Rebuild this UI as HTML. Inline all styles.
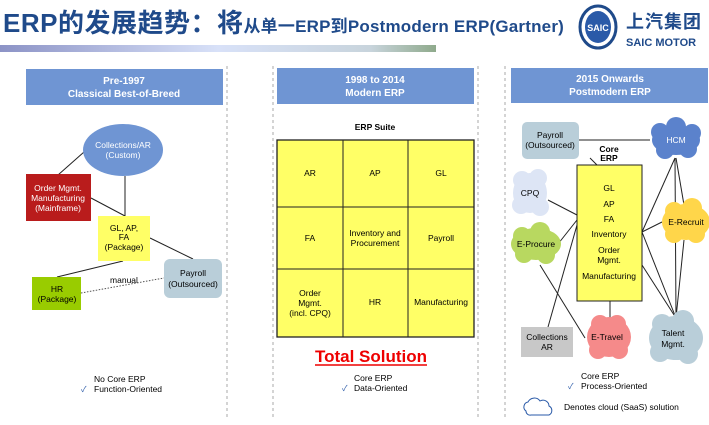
<!DOCTYPE html>
<html><head><meta charset="utf-8"><style>
body{margin:0;width:709px;height:420px;background:#fff;overflow:hidden;font-family:"Liberation Sans","Noto Sans CJK SC",sans-serif;}
svg text{font-family:"Liberation Sans","Noto Sans CJK SC",sans-serif;}
</style></head><body>
<svg width="709" height="420" viewBox="0 0 709 420" xmlns="http://www.w3.org/2000/svg">
<defs>
<linearGradient id="bar" x1="0" x2="1"><stop offset="0" stop-color="#8c93c6"/><stop offset="0.5" stop-color="#d8e1f8"/><stop offset="0.85" stop-color="#c8d4dc"/><stop offset="1" stop-color="#8faa8c"/></linearGradient>
</defs>
<text x="3" y="32" font-size="26" font-weight="bold" fill="#1f4a8a" letter-spacing="0.5">ERP的发展趋势：将<tspan font-size="17" letter-spacing="0.2">从单一ERP到Postmodern ERP(Gartner)</tspan></text>
<rect x="0" y="45" width="436" height="7" fill="url(#bar)"/>
<ellipse cx="598" cy="27" rx="18" ry="21" fill="#fff" stroke="#1f4a8a" stroke-width="3"/>
<ellipse cx="598" cy="27" rx="13" ry="16" fill="#2a5aa8"/>
<text x="598" y="31" font-size="9" font-weight="bold" fill="#fff" text-anchor="middle">SAIC</text>
<text x="626" y="28" font-size="18" font-weight="bold" fill="#1f4a8a" letter-spacing="1">上汽集团</text>
<text x="626" y="46" font-size="11" font-weight="bold" fill="#1f4a8a">SAIC MOTOR</text>
<g stroke="#aaa" stroke-dasharray="3,3" stroke-width="1">
<line x1="227" y1="66" x2="227" y2="420"/><line x1="273" y1="66" x2="273" y2="420"/>
<line x1="478" y1="66" x2="478" y2="420"/><line x1="505" y1="66" x2="505" y2="420"/>
</g>
<g font-size="10" font-weight="bold" fill="#fff" text-anchor="middle">
<rect x="26" y="69" width="197" height="36" fill="#6f95d3"/>
<text x="124" y="84">Pre-1997</text><text x="124" y="97">Classical Best-of-Breed</text>
<rect x="277" y="68" width="197" height="36" fill="#6f95d3"/>
<text x="375" y="83">1998 to 2014</text><text x="375" y="96">Modern ERP</text>
<rect x="511" y="68" width="197" height="35" fill="#6f95d3"/>
<text x="610" y="82">2015 Onwards</text><text x="610" y="95">Postmodern ERP</text>
</g>
<g stroke="#222" stroke-width="1">
<line x1="84" y1="152" x2="58" y2="175"/><line x1="125" y1="176" x2="125" y2="216"/>
<line x1="91" y1="198" x2="125" y2="216"/><line x1="150" y1="238" x2="193" y2="259"/>
<line x1="123" y1="261" x2="57" y2="277"/>
<line x1="81" y1="293" x2="164" y2="278" stroke-dasharray="1.5,1.5" stroke="#555"/>
</g>
<ellipse cx="123" cy="150" rx="40" ry="26" fill="#6f95d3"/>
<rect x="26" y="174" width="65" height="47" fill="#b91c1c"/>
<rect x="98" y="216" width="52" height="45" fill="#ffff66"/>
<rect x="32" y="277" width="49" height="33" fill="#99cc00"/>
<rect x="164" y="259" width="58" height="39" rx="6" fill="#b9ced9"/>
<g font-size="8.5" text-anchor="middle">
<text x="123" y="148" fill="#fff">Collections/AR</text><text x="123" y="158" fill="#fff">(Custom)</text>
<text x="58" y="191" fill="#fff">Order Mgmt.</text><text x="58" y="201" fill="#fff">Manufacturing</text><text x="58" y="211" fill="#fff">(Mainframe)</text>
<text x="124" y="231">GL, AP,</text><text x="124" y="240">FA</text><text x="124" y="250">(Package)</text>
<text x="57" y="292">HR</text><text x="57" y="302">(Package)</text>
<text x="193" y="276">Payroll</text><text x="193" y="287">(Outsourced)</text>
<text x="124" y="283">manual</text>
</g>
<g font-size="8.5"><text x="94" y="382">No Core ERP</text><text x="94" y="392">Function-Oriented</text></g>
<text x="81" y="392" font-size="8" fill="#2a5aa8">✓</text>
<text x="375" y="130" font-size="8.5" font-weight="bold" text-anchor="middle">ERP Suite</text>
<rect x="277" y="140" width="197" height="197" fill="#ffff66" stroke="#222" stroke-width="1.3"/>
<g stroke="#222" stroke-width="1"><line x1="343" y1="140" x2="343" y2="337"/><line x1="408" y1="140" x2="408" y2="337"/><line x1="277" y1="207" x2="474" y2="207"/><line x1="277" y1="269" x2="474" y2="269"/></g>
<g font-size="8.5" text-anchor="middle">
<text x="310" y="176">AR</text><text x="375" y="176">AP</text><text x="441" y="176">GL</text>
<text x="310" y="241">FA</text><text x="375" y="236">Inventory and</text><text x="375" y="246">Procurement</text><text x="441" y="241">Payroll</text>
<text x="310" y="296">Order</text><text x="310" y="306">Mgmt.</text><text x="310" y="316">(incl. CPQ)</text>
<text x="375" y="305">HR</text><text x="441" y="305">Manufacturing</text>
</g>
<text x="371" y="362" font-size="17" font-weight="bold" fill="#e00" text-anchor="middle">Total Solution</text>
<line x1="315" y1="365" x2="427" y2="365" stroke="#e00" stroke-width="1.5"/>
<g font-size="8.5"><text x="354" y="381">Core ERP</text><text x="354" y="391">Data-Oriented</text></g>
<text x="342" y="391" font-size="8" fill="#2a5aa8">✓</text>
<g stroke="#222" stroke-width="1">
<line x1="579" y1="140" x2="650" y2="140"/><line x1="590" y1="158" x2="597" y2="165"/>
<line x1="675" y1="158" x2="642" y2="232"/><line x1="675" y1="158" x2="676" y2="318"/><line x1="676" y1="158" x2="684" y2="205"/>
<line x1="684" y1="240" x2="676" y2="318"/>
<line x1="662" y1="222" x2="642" y2="232"/><line x1="642" y1="232" x2="676" y2="318"/><line x1="642" y1="265" x2="676" y2="318"/>
<line x1="548" y1="200" x2="577" y2="215"/><line x1="558" y1="244" x2="577" y2="220"/>
<line x1="548" y1="327" x2="577" y2="225"/><line x1="540" y1="265" x2="585" y2="338"/>
<line x1="610" y1="301" x2="610" y2="318"/>
</g>
<rect x="522" y="122" width="57" height="37" rx="5" fill="#b9ced9"/>
<rect x="577" y="165" width="65" height="136" fill="#ffff66" stroke="#222" stroke-width="1"/>
<rect x="521" y="327" width="52" height="30" fill="#c8c8c8"/>
<g fill="#5b82cc"><ellipse cx="676" cy="140" rx="24" ry="15"/><circle cx="660" cy="132" r="9"/><circle cx="676" cy="127" r="10"/><circle cx="692" cy="133" r="9"/><circle cx="665" cy="150" r="9"/><circle cx="688" cy="149" r="9"/></g>
<g fill="#dde5f5"><ellipse cx="530" cy="193" rx="17" ry="20"/><circle cx="522" cy="180" r="9"/><circle cx="538" cy="178" r="9"/><circle cx="521" cy="205" r="9"/><circle cx="540" cy="207" r="9"/></g>
<g fill="#b8d860"><ellipse cx="536" cy="244" rx="25" ry="16"/><circle cx="522" cy="236" r="9"/><circle cx="540" cy="232" r="10"/><circle cx="524" cy="254" r="9"/><circle cx="546" cy="255" r="9"/></g>
<g fill="#ffd64a"><ellipse cx="686" cy="222" rx="24" ry="18"/><circle cx="674" cy="211" r="9"/><circle cx="692" cy="208" r="10"/><circle cx="674" cy="234" r="9"/><circle cx="696" cy="234" r="9"/></g>
<g fill="#f58a8a"><ellipse cx="609" cy="337" rx="22" ry="20"/><circle cx="600" cy="324" r="9"/><circle cx="617" cy="324" r="9"/><circle cx="598" cy="350" r="9"/><circle cx="619" cy="350" r="9"/></g>
<g fill="#b9ced9"><ellipse cx="676" cy="338" rx="27" ry="22"/><circle cx="662" cy="324" r="10"/><circle cx="683" cy="321" r="11"/><circle cx="660" cy="352" r="10"/><circle cx="688" cy="354" r="10"/></g>
<g font-size="8.5" text-anchor="middle">
<text x="550" y="138">Payroll</text><text x="550" y="148">(Outsourced)</text>
<text x="609" y="152" font-weight="bold">Core</text><text x="609" y="161" font-weight="bold">ERP</text>
<text x="609" y="191">GL</text><text x="609" y="207">AP</text><text x="609" y="222">FA</text><text x="609" y="237">Inventory</text>
<text x="609" y="253">Order</text><text x="609" y="263">Mgmt.</text><text x="609" y="279">Manufacturing</text>
<text x="676" y="143" fill="#fff">HCM</text><text x="530" y="196">CPQ</text><text x="536" y="247">E-Procure</text>
<text x="686" y="225">E-Recruit</text><text x="547" y="340">Collections</text><text x="547" y="350">AR</text>
<text x="607" y="340">E-Travel</text><text x="673" y="336">Talent</text><text x="673" y="347">Mgmt.</text>
</g>
<g font-size="8.5"><text x="581" y="379">Core ERP</text><text x="581" y="389">Process-Oriented</text>
<text x="564" y="410">Denotes cloud (SaaS) solution</text></g>
<text x="568" y="389" font-size="8" fill="#2a5aa8">✓</text>
<path d="M531 415 h18 a5 5 0 0 0 0-9 a6 6 0 0 0-9-5 a7 7 0 0 0-12 1 a5 5 0 0 0-2 9 a4 4 0 0 0 5 4z" fill="#fff" stroke="#2a5aa8" stroke-width="1"/>
</svg>
</body></html>
